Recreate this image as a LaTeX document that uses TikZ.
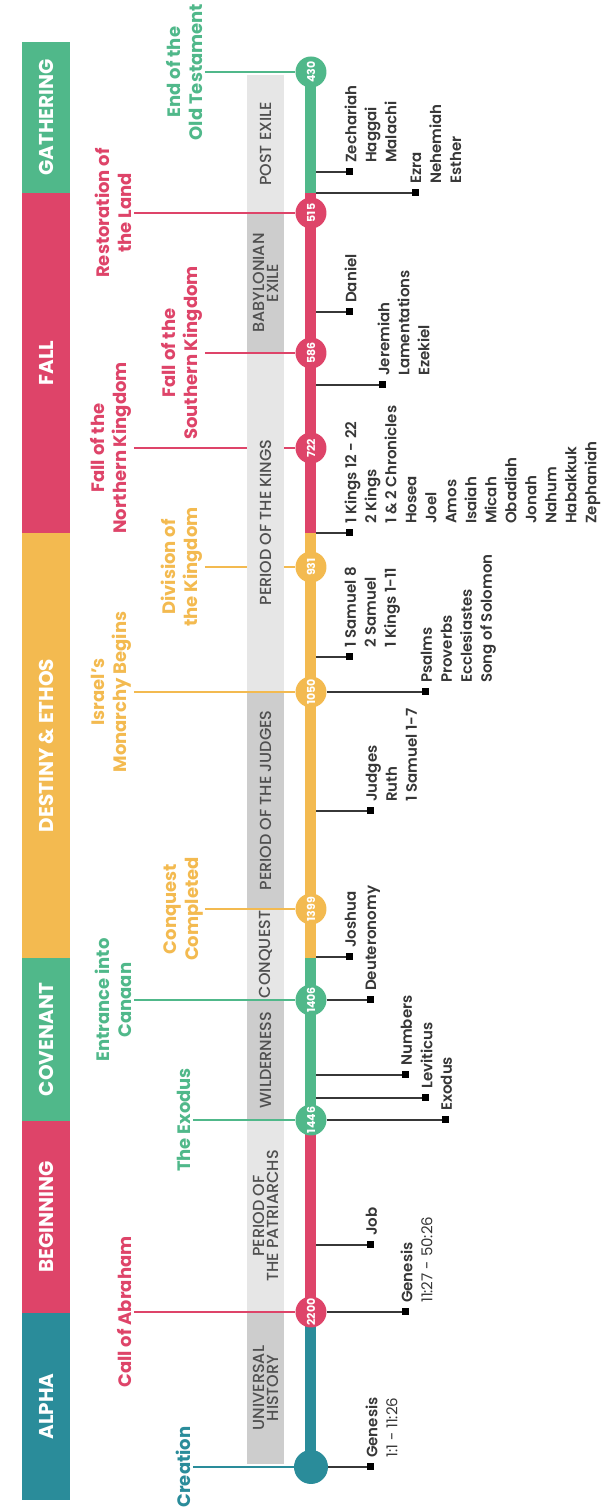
\documentclass[tikz,border=0pt]{standalone}
\usepackage{fontspec}
\setmainfont{Poppins}
\IfFontExistsTF{Poppins SemiBold}{\newfontfamily\bookfont{Poppins SemiBold}}{\def\bookfont{\bfseries}}
\IfFontExistsTF{Poppins Medium}{\newfontfamily\periodfont{Poppins Medium}}{\def\periodfont{\mdseries}}
\usepackage{tikz}
\usetikzlibrary{backgrounds}
\definecolor{tealc}{RGB}{42,140,154}
\definecolor{pinkc}{RGB}{222,68,105}
\definecolor{greenc}{RGB}{80,184,138}
\definecolor{yellowc}{RGB}{243,186,80}
\definecolor{bandlight}{RGB}{230,230,230}
\definecolor{banddark}{RGB}{205,205,205}
\definecolor{ink}{RGB}{55,55,55}
\definecolor{periodink}{RGB}{80,80,80}
\tikzstyle{era} = [draw=none, minimum height=48, inner sep=0pt, text=white, font=\bfseries\fontsize{20}{20}\selectfont]
\tikzstyle{period} = [minimum height=37, inner sep=0pt, text=periodink, align=center, font=\periodfont\fontsize{16}{14}\selectfont]
\tikzstyle{event} = [circle, minimum size=31, inner sep=0pt, text=white, font=\bfseries\fontsize{11}{11}\selectfont]
\tikzstyle{evlabel} = [anchor=south, align=center, inner sep=2pt, font=\bfseries\fontsize{18}{22}\selectfont]
\tikzstyle{evline} = [line width=1.5pt]
\tikzstyle{tline} = [line width=11pt]
\tikzstyle{booktag} = [fill=black, minimum size=7, inner sep=0pt]
\tikzstyle{booklist} = [anchor=north west, align=left, inner sep=0pt, text=ink, font=\bookfont\fontsize{15}{20}\selectfont]
\tikzstyle{bookline} = [draw=ink, line width=2pt]

\begin{document}
\begin{tikzpicture}[rotate=90, transform shape, x=1pt, y=1pt]
\useasboundingbox (0,0) rectangle (1507,604);

% eras =============================
\node[era, fill=tealc, minimum width=187] (alpha) at (100.5,558) {ALPHA};
\node[era, fill=pinkc, minimum width=192] (beginning) at (290,558) {BEGINNING};
\node[era, fill=greenc, minimum width=163] (covenant) at (467.5,558) {COVENANT};
\node[era, fill=yellowc, minimum width=425] (destiny) at (761.5,558) {DESTINY \& ETHOS};
\node[era, fill=pinkc, minimum width=340] (fall) at (1144,558) {FALL};
\node[era, fill=greenc, minimum width=151] (gathering) at (1389.5,558) {GATHERING};

% events on the line
\node[event, fill=tealc, minimum size=34] (creation) at (40,293) {};
\node[event, fill=pinkc] (e2200) at (195,293) {2200};
\node[event, fill=greenc] (e1446) at (387,293) {1446};
\node[event, fill=greenc] (e1406) at (507,293) {1406};
\node[event, fill=yellowc] (e1399) at (598,293) {1399};
\node[event, fill=yellowc] (e1050) at (815,293) {1050};
\node[event, fill=yellowc] (e931) at (940,293) {931};
\node[event, fill=pinkc] (e722) at (1059,293) {722};
\node[event, fill=pinkc] (e586) at (1154,293) {586};
\node[event, fill=pinkc] (e515) at (1294,293) {515};
\node[event, fill=greenc] (e430) at (1435,293) {430};

% event labels
\node[evlabel, text=tealc] (lcreation) at (40,411) {Creation};
\node[evlabel, text=pinkc] (labraham) at (195,470) {Call of Abraham};
\node[evlabel, text=greenc] (lexodus) at (387,411) {The Exodus};
\node[evlabel, text=greenc] (lcanaan) at (507,470) {Entrance into\\Canaan};
\node[evlabel, text=yellowc] (lconquest) at (598,399) {Conquest\\Completed};
\node[evlabel, text=yellowc] (lmonarchy) at (815,470) {Israel’s\\Monarchy Begins};
\node[evlabel, text=yellowc] (ldivision) at (940,399) {Division of\\the Kingdom};
\node[evlabel, text=pinkc] (lnorth) at (1059,470) {Fall of the\\Northern Kingdom};
\node[evlabel, text=pinkc] (lsouth) at (1154,399) {Fall of the\\Southern Kingdom};
\node[evlabel, text=pinkc] (lrestore) at (1294,470) {Restoration of\\the Land};
\node[evlabel, text=greenc] (lend) at (1435,399) {End of the\\Old Testament};

%% behind the periods
\begin{scope}[on background layer]
\draw[evline, yellowc] (ldivision) -- (e931);
\draw[evline, pinkc] (lnorth) -- (e722);
\coordinate (c549) at (549,293);
\coordinate (c974) at (974,293);
\coordinate (c1314) at (1314,293);
\draw[tline, tealc] (creation.center) -- (e2200.center);
\draw[tline, pinkc] (e2200.center) -- (e1446.center);
\draw[tline, greenc] (e1446.center) -- (c549);
\draw[tline, yellowc] (c549) -- (c974);
\draw[tline, pinkc] (c974) -- (c1314);
\draw[tline, greenc] (c1314) -- (e430.center);
\end{scope}

% periods =============================
\node[period, fill=banddark, minimum width=152] (universal) at (119,338.5) {UNIVERSAL\\HISTORY};
\node[period, fill=bandlight, minimum width=192] (patriarchs) at (291,338.5) {PERIOD OF\\THE PATRIARCHS};
\node[period, fill=banddark, minimum width=120] (wilderness) at (447,338.5) {WILDERNESS};
\node[period, fill=bandlight, minimum width=91] (conquest) at (552.5,338.5) {CONQUEST};
\node[period, fill=banddark, minimum width=217] (judges) at (706.5,338.5) {PERIOD OF THE JUDGES};
\node[period, fill=bandlight, minimum width=339] (kings) at (984.5,338.5) {PERIOD OF THE KINGS};
\node[period, fill=banddark, minimum width=140] (exile) at (1224,338.5) {BABYLONIAN\\EXILE};
\node[period, fill=bandlight, minimum width=138] (postexile) at (1363,338.5) {POST EXILE};

% edges of the events
\draw[evline, tealc] (lcreation) -- (creation);
\draw[evline, pinkc] (labraham) -- (e2200);
\draw[evline, greenc] (lexodus) -- (e1446);
\draw[evline, greenc] (lcanaan) -- (e1406);
\draw[evline, yellowc] (lconquest) -- (e1399);
\draw[evline, yellowc] (lmonarchy) -- (e1050);
\draw[evline, pinkc] (lsouth) -- (e586);
\draw[evline, pinkc] (lrestore) -- (e515);
\draw[evline, greenc] (lend) -- (e430);

% books =============================
\coordinate (j3) at (262,287.5);
\coordinate (j5) at (409,287.5);
\coordinate (j6) at (432,287.5);
\coordinate (j8) at (550,287.5);
\coordinate (j9) at (696,287.5);
\coordinate (j11) at (850,287.5);
\coordinate (j12) at (974,287.5);
\coordinate (j13) at (1122,287.5);
\coordinate (j14) at (1195,287.5);
\coordinate (j15) at (1314,287.5);
\coordinate (j16) at (1335,287.5);

\node[booktag] (s1) at (40,233) {};
\node[booklist] (b1) at (49,238.5) {Genesis\\{\rmfamily\mdseries 1:1 - 11:26}};
\node[booktag] (s2) at (195,198) {};
\node[booklist] (b2) at (204,203.5) {Genesis\\{\rmfamily\mdseries 11:27 - 50:26}};
\node[booktag] (s3) at (262,233) {};
\node[booklist] (b3) at (271,238.5) {Job};
\node[booktag] (s4) at (387,158) {};
\node[booklist] (b4) at (396,163.5) {Exodus};
\node[booktag] (s5) at (409,178) {};
\node[booklist] (b5) at (418,183.5) {Leviticus};
\node[booktag] (s6) at (432,198) {};
\node[booklist] (b6) at (441,203.5) {Numbers};
\node[booktag] (s7) at (507,233) {};
\node[booklist] (b7) at (516,238.5) {Deuteronomy};
\node[booktag] (s8) at (550,254) {};
\node[booklist] (b8) at (559,259.5) {Joshua};
\node[booktag] (s9) at (696,233) {};
\node[booklist] (b9) at (705,238.5) {Judges\\Ruth\\1 Samuel 1-7};
\node[booktag] (s10) at (815,178) {};
\node[booklist] (b10) at (824,183.5) {Psalms\\Proverbs\\Ecclesiastes\\Song of Solomon};
\node[booktag] (s11) at (850,254) {};
\node[booklist] (b11) at (859,259.5) {1 Samuel 8\\2 Samuel\\1 Kings 1-11};
\node[booktag] (s12) at (974,254) {};
\node[booklist] (b12) at (983,259.5) {1 Kings 12 - 22\\2 Kings\\1 \& 2 Chronicles\\Hosea\\Joel\\Amos\\Isaiah\\Micah\\Obadiah\\Jonah\\Nahum\\Habakkuk\\Zephaniah};
\node[booktag] (s13) at (1122,221) {};
\node[booklist] (b13) at (1131,226.5) {Jeremiah\\Lamentations\\Ezekiel};
\node[booktag] (s14) at (1195,254) {};
\node[booklist] (b14) at (1204,259.5) {Daniel};
\node[booktag] (s15) at (1314,188) {};
\node[booklist] (b15) at (1323,193.5) {Ezra\\Nehemiah\\Esther};
\node[booktag] (s16) at (1335,254) {};
\node[booklist] (b16) at (1344,259.5) {Zechariah\\Haggai\\Malachi};

% edges of the books
\draw[bookline] (creation) -- (s1);
\draw[bookline] (e2200) -- (s2);
\draw[bookline] (j3) -- (s3);
\draw[bookline] (e1446) -- (s4);
\draw[bookline] (j5) -- (s5);
\draw[bookline] (j6) -- (s6);
\draw[bookline] (e1406) -- (s7);
\draw[bookline] (j8) -- (s8);
\draw[bookline] (j9) -- (s9);
\draw[bookline] (e1050) -- (s10);
\draw[bookline] (j11) -- (s11);
\draw[bookline] (j12) -- (s12);
\draw[bookline] (j13) -- (s13);
\draw[bookline] (j14) -- (s14);
\draw[bookline] (j15) -- (s15);
\draw[bookline] (j16) -- (s16);

\end{tikzpicture}
\end{document}
